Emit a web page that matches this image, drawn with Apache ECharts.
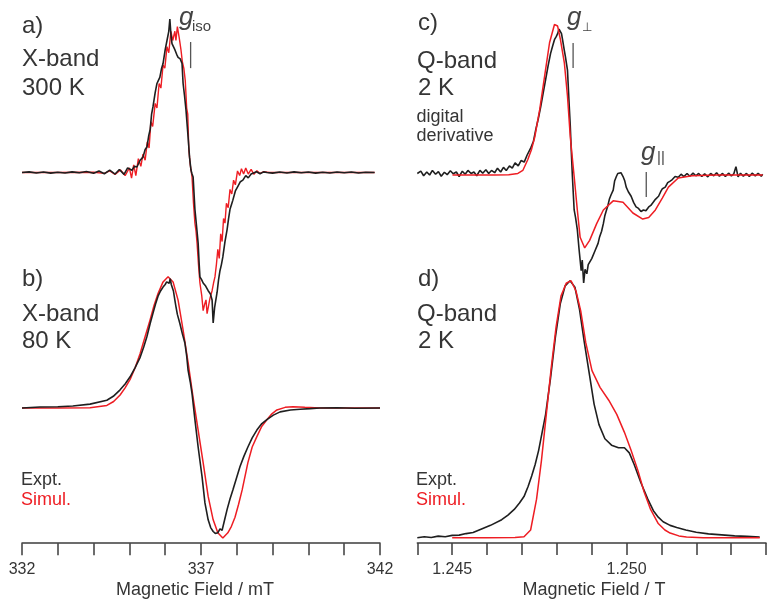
<!DOCTYPE html>
<html>
<head>
<meta charset="utf-8">
<script src="https://cdn.jsdelivr.net/npm/echarts@6/dist/echarts.min.js"></script>
<style>
  html, body { margin: 0; padding: 0; background: #fff; }
  #chart { width: 769px; height: 601px; }
</style>
</head>
<body>
<div id="chart"></div>
<script>
// ---- Tick labels ----
const fieldTicksMT = [332, 337, 342];      // X-band axis (mT)
const fieldTicksT = [1.245, 1.250];        // Q-band axis (T)

// ---- a) X-band, 300 K : [field / mT, dI/dB (normalised)] ----
const exptA = [[332.00,0.000],[332.20,0.004],[332.40,-0.003],[332.60,0.003],[332.80,-0.004],[333.00,0.002],[333.20,-0.003],[333.40,0.004],[333.60,-0.002],[333.80,0.006],[334.00,-0.005],[334.15,0.010],[334.30,-0.008],[334.45,0.015],[334.60,-0.010],[334.72,0.020],[334.85,-0.012],[334.95,0.030],[335.07,0.015],[335.14,0.040],[335.21,0.036],[335.30,0.080],[335.38,0.100],[335.44,0.150],[335.49,0.166],[335.54,0.240],[335.58,0.280],[335.62,0.380],[335.66,0.430],[335.72,0.520],[335.77,0.580],[335.81,0.600],[335.85,0.620],[335.90,0.680],[335.94,0.710],[336.00,0.800],[336.05,0.860],[336.10,0.920],[336.13,1.000],[336.16,0.900],[336.19,0.840],[336.23,0.820],[336.27,0.800],[336.32,0.770],[336.36,0.750],[336.42,0.740],[336.47,0.710],[336.50,0.580],[336.54,0.500],[336.58,0.410],[336.61,0.320],[336.64,0.230],[336.68,0.100],[336.72,0.016],[336.75,-0.010],[336.78,-0.030],[336.83,-0.240],[336.88,-0.360],[336.92,-0.460],[336.95,-0.600],[336.97,-0.680],[337.02,-0.700],[337.06,-0.720],[337.13,-0.740],[337.20,-0.770],[337.26,-0.790],[337.31,-0.830],[337.34,-0.980],[337.38,-0.880],[337.45,-0.780],[337.49,-0.700],[337.53,-0.640],[337.57,-0.600],[337.61,-0.550],[337.67,-0.450],[337.73,-0.370],[337.77,-0.300],[337.81,-0.240],[337.85,-0.210],[337.89,-0.180],[337.96,-0.120],[338.03,-0.090],[338.10,-0.060],[338.17,-0.050],[338.25,-0.020],[338.32,-0.035],[338.40,-0.010],[338.45,-0.016],[338.55,0.005],[338.65,-0.008],[338.75,0.004],[338.84,0.000],[339.00,-0.004],[339.20,0.003],[339.40,-0.003],[339.60,0.004],[339.80,-0.002],[340.00,0.003],[340.20,-0.004],[340.40,0.002],[340.60,-0.003],[340.80,0.003],[341.00,-0.002],[341.20,0.003],[341.40,-0.003],[341.60,0.002],[341.85,0.000]];
const simA = [[332.00,0.000],[333.00,0.000],[334.00,0.002],[334.30,-0.006],[334.45,0.010],[334.60,-0.012],[334.75,0.016],[334.88,-0.020],[335.00,0.030],[335.06,-0.036],[335.12,0.050],[335.18,-0.020],[335.25,0.090],[335.32,0.040],[335.38,0.120],[335.44,0.080],[335.50,0.200],[335.55,0.160],[335.60,0.330],[335.65,0.300],[335.72,0.450],[335.77,0.420],[335.83,0.580],[335.88,0.550],[335.94,0.700],[335.99,0.680],[336.05,0.820],[336.10,0.780],[336.16,0.920],[336.21,0.860],[336.27,0.920],[336.30,0.860],[336.34,0.950],[336.39,0.880],[336.44,0.800],[336.48,0.720],[336.52,0.680],[336.56,0.600],[336.60,0.420],[336.63,0.380],[336.66,0.150],[336.70,0.050],[336.75,-0.030],[336.79,-0.200],[336.83,-0.330],[336.86,-0.380],[336.89,-0.460],[336.93,-0.600],[336.97,-0.720],[337.02,-0.800],[337.06,-0.900],[337.10,-0.860],[337.14,-0.830],[337.17,-0.920],[337.20,-0.920],[337.25,-0.820],[337.31,-0.770],[337.35,-0.720],[337.39,-0.680],[337.43,-0.600],[337.47,-0.500],[337.51,-0.560],[337.55,-0.400],[337.59,-0.450],[337.63,-0.300],[337.67,-0.330],[337.71,-0.200],[337.76,-0.230],[337.81,-0.110],[337.86,-0.140],[337.91,-0.050],[337.96,-0.080],[338.02,0.010],[338.08,-0.020],[338.13,0.025],[338.19,-0.010],[338.25,0.030],[338.32,-0.010],[338.40,0.020],[338.48,-0.012],[338.56,0.012],[338.65,-0.006],[338.75,0.005],[338.90,0.000],[340.00,0.000],[341.85,0.000]];

// ---- b) X-band, 80 K ----
const exptB = [[332.00,0.000],[332.50,0.008],[333.00,0.010],[333.42,0.015],[333.90,0.030],[334.37,0.060],[334.55,0.090],[334.74,0.140],[334.88,0.185],[335.02,0.240],[335.16,0.310],[335.30,0.390],[335.40,0.470],[335.49,0.550],[335.58,0.650],[335.66,0.730],[335.73,0.800],[335.80,0.860],[335.87,0.900],[335.94,0.930],[336.00,0.950],[336.04,0.970],[336.08,0.980],[336.11,0.960],[336.14,0.995],[336.17,0.950],[336.19,0.960],[336.23,0.900],[336.27,0.830],[336.30,0.780],[336.34,0.720],[336.41,0.650],[336.48,0.570],[336.55,0.500],[336.60,0.400],[336.64,0.290],[336.70,0.200],[336.75,0.110],[336.83,-0.090],[336.92,-0.300],[337.03,-0.530],[337.11,-0.730],[337.20,-0.860],[337.27,-0.920],[337.34,-0.950],[337.40,-0.965],[337.47,-0.960],[337.53,-0.930],[337.59,-0.940],[337.66,-0.860],[337.73,-0.780],[337.81,-0.700],[337.89,-0.630],[337.99,-0.540],[338.09,-0.450],[338.20,-0.370],[338.31,-0.300],[338.43,-0.230],[338.56,-0.170],[338.70,-0.120],[338.84,-0.090],[339.02,-0.055],[339.21,-0.030],[339.50,-0.015],[339.77,-0.010],[340.05,-0.005],[340.32,0.000],[340.80,0.002],[341.30,-0.002],[342.00,0.000]];
const simB = [[332.00,0.000],[333.00,0.000],[333.90,0.002],[334.37,0.020],[334.56,0.050],[334.74,0.100],[334.88,0.155],[335.02,0.220],[335.16,0.310],[335.30,0.420],[335.44,0.550],[335.58,0.680],[335.69,0.790],[335.80,0.880],[335.94,0.970],[336.08,1.010],[336.22,0.970],[336.36,0.830],[336.50,0.600],[336.64,0.350],[336.78,0.080],[336.92,-0.170],[337.06,-0.420],[337.20,-0.680],[337.34,-0.860],[337.47,-0.960],[337.61,-1.000],[337.75,-0.960],[337.85,-0.910],[337.95,-0.840],[338.05,-0.740],[338.15,-0.630],[338.31,-0.420],[338.43,-0.300],[338.56,-0.220],[338.70,-0.140],[338.84,-0.090],[338.98,-0.045],[339.12,-0.015],[339.35,0.005],[339.57,0.010],[339.90,0.005],[340.32,0.000],[341.00,0.000],[342.00,0.000]];

// ---- c) Q-band, 2 K, digital derivative : [field / T, dI/dB] ----
const exptC = [[1.24400,0.010],[1.24410,0.025],[1.24418,-0.005],[1.24427,0.020],[1.24435,0.000],[1.24443,0.030],[1.24452,0.005],[1.24460,0.022],[1.24468,-0.008],[1.24477,0.018],[1.24485,0.002],[1.24494,0.028],[1.24502,0.008],[1.24511,0.020],[1.24519,-0.010],[1.24528,0.025],[1.24536,0.005],[1.24544,0.030],[1.24553,0.010],[1.24561,0.020],[1.24569,-0.005],[1.24578,0.030],[1.24586,0.012],[1.24595,0.035],[1.24603,0.010],[1.24611,0.030],[1.24620,0.015],[1.24628,0.045],[1.24637,0.020],[1.24645,0.050],[1.24653,0.030],[1.24662,0.060],[1.24670,0.045],[1.24678,0.080],[1.24687,0.060],[1.24695,0.095],[1.24704,0.085],[1.24712,0.130],[1.24723,0.180],[1.24730,0.220],[1.24737,0.300],[1.24744,0.370],[1.24751,0.450],[1.24758,0.540],[1.24765,0.630],[1.24772,0.720],[1.24779,0.800],[1.24785,0.850],[1.24790,0.890],[1.24795,0.910],[1.24799,0.930],[1.24803,0.960],[1.24807,0.970],[1.24810,0.930],[1.24813,0.890],[1.24818,0.820],[1.24821,0.780],[1.24827,0.690],[1.24831,0.500],[1.24835,0.320],[1.24838,0.150],[1.24841,-0.010],[1.24846,-0.230],[1.24850,-0.280],[1.24855,-0.360],[1.24860,-0.490],[1.24866,-0.630],[1.24869,-0.560],[1.24873,-0.710],[1.24877,-0.620],[1.24882,-0.650],[1.24886,-0.590],[1.24890,-0.600],[1.24896,-0.550],[1.24901,-0.540],[1.24905,-0.500],[1.24910,-0.490],[1.24914,-0.450],[1.24918,-0.410],[1.24924,-0.370],[1.24929,-0.320],[1.24933,-0.270],[1.24938,-0.230],[1.24942,-0.200],[1.24946,-0.160],[1.24951,-0.130],[1.24957,-0.100],[1.24961,-0.040],[1.24966,-0.010],[1.24970,0.010],[1.24974,0.000],[1.24979,0.015],[1.24985,-0.010],[1.24990,-0.040],[1.24994,-0.080],[1.25000,-0.110],[1.25008,-0.140],[1.25015,-0.180],[1.25022,-0.210],[1.25029,-0.220],[1.25036,-0.240],[1.25043,-0.230],[1.25050,-0.235],[1.25058,-0.210],[1.25064,-0.200],[1.25069,-0.190],[1.25077,-0.160],[1.25086,-0.140],[1.25092,-0.110],[1.25097,-0.090],[1.25105,-0.080],[1.25112,-0.050],[1.25119,-0.040],[1.25125,-0.030],[1.25133,-0.010],[1.25142,-0.015],[1.25150,0.005],[1.25158,-0.010],[1.25167,0.010],[1.25175,-0.008],[1.25184,0.012],[1.25192,-0.005],[1.25200,0.010],[1.25209,-0.010],[1.25217,0.008],[1.25226,-0.012],[1.25234,0.010],[1.25243,-0.005],[1.25251,0.015],[1.25259,-0.008],[1.25268,0.010],[1.25276,-0.010],[1.25285,0.012],[1.25293,-0.006],[1.25300,0.008],[1.25306,0.055],[1.25312,-0.012],[1.25319,0.012],[1.25327,-0.008],[1.25336,0.010],[1.25344,-0.010],[1.25352,0.012],[1.25361,-0.006],[1.25369,0.010],[1.25378,-0.008],[1.25382,0.005]];
const simC = [[1.24500,0.000],[1.24560,0.000],[1.24620,0.000],[1.24660,0.002],[1.24686,0.010],[1.24700,0.030],[1.24714,0.100],[1.24725,0.170],[1.24734,0.250],[1.24748,0.430],[1.24762,0.650],[1.24776,0.870],[1.24790,0.990],[1.24799,0.980],[1.24807,0.890],[1.24818,0.740],[1.24827,0.520],[1.24835,0.250],[1.24846,-0.010],[1.24855,-0.230],[1.24863,-0.410],[1.24876,-0.480],[1.24890,-0.430],[1.24910,-0.320],[1.24929,-0.230],[1.24957,-0.170],[1.24985,-0.180],[1.25013,-0.250],[1.25041,-0.290],[1.25058,-0.280],[1.25077,-0.230],[1.25097,-0.150],[1.25114,-0.080],[1.25142,-0.020],[1.25181,-0.005],[1.25250,0.000],[1.25320,0.000],[1.25382,0.000]];

// ---- d) Q-band, 2 K, absorption ----
const exptD = [[1.24400,0.000],[1.24420,0.004],[1.24440,0.001],[1.24460,0.006],[1.24480,0.004],[1.24500,0.009],[1.24520,0.010],[1.24540,0.016],[1.24560,0.020],[1.24586,0.035],[1.24610,0.048],[1.24642,0.070],[1.24660,0.088],[1.24678,0.110],[1.24693,0.135],[1.24706,0.160],[1.24718,0.200],[1.24728,0.240],[1.24738,0.285],[1.24748,0.340],[1.24758,0.410],[1.24768,0.480],[1.24782,0.620],[1.24796,0.780],[1.24810,0.910],[1.24824,0.980],[1.24838,1.000],[1.24852,0.975],[1.24865,0.890],[1.24879,0.760],[1.24893,0.640],[1.24907,0.520],[1.24921,0.440],[1.24938,0.385],[1.24957,0.360],[1.24977,0.350],[1.24994,0.350],[1.25008,0.330],[1.25022,0.285],[1.25041,0.215],[1.25061,0.150],[1.25077,0.105],[1.25091,0.080],[1.25105,0.062],[1.25125,0.048],[1.25144,0.040],[1.25170,0.030],[1.25200,0.021],[1.25235,0.015],[1.25273,0.011],[1.25310,0.007],[1.25345,0.005],[1.25382,0.003]];
const simD = [[1.24500,0.000],[1.24600,0.000],[1.24680,0.001],[1.24706,0.004],[1.24725,0.030],[1.24742,0.150],[1.24756,0.300],[1.24770,0.480],[1.24784,0.660],[1.24798,0.820],[1.24812,0.940],[1.24827,0.990],[1.24841,1.000],[1.24855,0.960],[1.24869,0.880],[1.24883,0.760],[1.24901,0.650],[1.24924,0.585],[1.24949,0.535],[1.24972,0.480],[1.24994,0.410],[1.25013,0.340],[1.25033,0.260],[1.25050,0.180],[1.25069,0.110],[1.25091,0.055],[1.25110,0.030],[1.25125,0.018],[1.25150,0.007],[1.25172,0.003],[1.25220,0.000],[1.25300,0.000],[1.25382,0.000]];

// ---- g-value markers (short vertical bars) ----
const gIsoMark  = [[336.71, 0.85], [336.71, 0.68]];
const gPerpMark = [[1.24843, 0.868], [1.24843, 0.704]];
const gParMark  = [[1.25051, 0.020], [1.25051, -0.145]];

const BLACK = '#1f1f1f';
const RED = '#ee1d23';
const TEXT = '#353535';
const FONT = '"Liberation Sans", Arial, Helvetica, sans-serif';

const chart = echarts.init(document.getElementById('chart'), null, { renderer: 'canvas' });

function hiddenX(idx, min, max) {
  return { gridIndex: idx, type: 'value', min, max, show: false };
}
function hiddenY(idx, min, max) {
  return { gridIndex: idx, type: 'value', min, max, show: false };
}
function fieldAxis(idx, min, max, interval, formatter) {
  return {
    gridIndex: idx, type: 'value', min, max, interval,
    axisLine: { show: true, onZero: false, lineStyle: { color: '#3c3c3c', width: 1.5 } },
    axisTick: { show: true, inside: false, length: 12, lineStyle: { color: '#3c3c3c', width: 1.5 } },
    axisLabel: { show: true, margin: 18, fontSize: 16, fontFamily: FONT, color: TEXT, formatter,
                 showMinLabel: true, showMaxLabel: true },
    splitLine: { show: false }
  };
}
function trace(idx, data, color, width, z) {
  return {
    type: 'line', xAxisIndex: idx, yAxisIndex: idx, data,
    showSymbol: false, symbol: 'none', smooth: false, silent: true,
    lineStyle: { color, width }, z, clip: false
  };
}

const fmtMT = v => fieldTicksMT.some(t => Math.abs(t - v) < 1e-6) ? String(Math.round(v)) : '';
const fmtT = v => fieldTicksT.some(t => Math.abs(t - v) < 1e-7) ? v.toFixed(3) : '';

function label(text, x, y, size, color, align) {
  return {
    type: 'text', x, y, silent: true,
    style: { text, font: size + 'px ' + FONT, fill: color || TEXT, textVerticalAlign: 'middle', textAlign: align || 'left' }
  };
}
function italic(text, x, y, size) {
  return { type: 'text', x, y, silent: true,
    style: { text, font: 'italic ' + size + 'px ' + FONT, fill: '#444', textVerticalAlign: 'middle', textAlign: 'left' } };
}

chart.setOption({
  animation: false,
  backgroundColor: '#ffffff',
  grid: [
    { left: 22,    top: 19,    width: 358, height: 307 },   // a
    { left: 22,    top: 278,   width: 358, height: 265.2 }, // b
    { left: 417.3, top: 23,    width: 358, height: 273.6 }, // c
    { left: 417.3, top: 280.7, width: 358, height: 262.4 }  // d
  ],
  xAxis: [
    hiddenX(0, 332, 342),
    fieldAxis(1, 332, 342, 1, fmtMT),
    hiddenX(2, 1.244, 1.254),
    fieldAxis(3, 1.244, 1.254, 0.001, fmtT)
  ],
  yAxis: [
    hiddenY(0, -1, 1),
    hiddenY(1, -1.04, 1),
    hiddenY(2, -0.8, 1),
    hiddenY(3, -0.021, 1)
  ],
  series: [
    trace(0, simA, RED, 1.4, 2),
    trace(0, exptA, BLACK, 1.6, 3),
    trace(0, gIsoMark, '#555', 1.3, 4),
    trace(1, simB, RED, 1.5, 2),
    trace(1, exptB, BLACK, 1.6, 3),
    trace(2, exptC, BLACK, 1.6, 2),
    trace(2, simC, RED, 1.5, 3),
    trace(2, gPerpMark, '#555', 1.3, 4),
    trace(2, gParMark, '#555', 1.3, 4),
    trace(3, exptD, BLACK, 1.6, 2),
    trace(3, simD, RED, 1.5, 3)
  ],
  graphic: [
    label('a)', 22, 26, 24),
    label('X-band', 22, 59, 24),
    label('300 K', 22, 88.5, 24),
    label('b)', 22, 279, 24),
    label('X-band', 22, 314, 24),
    label('80 K', 22, 341.5, 24),
    label('Expt.', 21, 480, 18),
    label('Simul.', 21, 500, 18, RED),
    label('c)', 418, 23, 24),
    label('Q-band', 417, 61, 24),
    label('2 K', 418, 88.5, 24),
    label('digital', 416.5, 117.5, 18),
    label('derivative', 416.5, 136.5, 18),
    label('d)', 418, 279, 24),
    label('Q-band', 417, 314, 24),
    label('2 K', 418, 341.5, 24),
    label('Expt.', 416, 480, 18),
    label('Simul.', 416, 500, 18, RED),
    italic('g', 179, 17.5, 26),
    label('iso', 192, 27, 15, '#444'),
    italic('g', 567, 17.5, 26),
    label('\u22A5', 582, 28, 12, '#444'),
    italic('g', 641, 152.5, 26),
    label('||', 657, 158, 15, '#444'),
    label('Magnetic Field / mT', 195, 590, 18, TEXT, 'center'),
    label('Magnetic Field / T', 594, 590, 18, TEXT, 'center')
  ]
});
</script>
</body>
</html>
